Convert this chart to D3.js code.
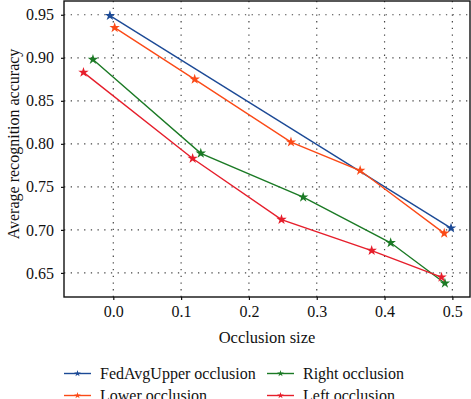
<!DOCTYPE html>
<html>
<head>
<meta charset="utf-8">
<script src="https://cdn.jsdelivr.net/npm/d3@7"></script>
<style>
  body { margin: 0; background: #fff; }
  svg { display: block; }
  svg text { font-family: "Liberation Serif", "DejaVu Serif", "Times New Roman", Times, serif !important; fill: #111; }
</style>
</head>
<body>
<svg id="chart" width="471" height="399"></svg>
<script>
// values
const seriesNames = ["FedAvgUpper occlusion", "Lower occlusion", "Right occlusion", "Left occlusion"];
const seriesColors = ["#1c4a96", "#fb4a17", "#1b7a25", "#e61e2b"];

const upperX = [-0.005, 0.498];
const upperY = [0.949, 0.702];
const lowerX = [0.002, 0.120, 0.262, 0.364, 0.488];
const lowerY = [0.935, 0.875, 0.802, 0.769, 0.696];
const rightX = [-0.030, 0.129, 0.280, 0.409, 0.489];
const rightY = [0.898, 0.789, 0.738, 0.685, 0.638];
const leftX = [-0.044, 0.117, 0.248, 0.381, 0.484];
const leftY = [0.883, 0.783, 0.712, 0.676, 0.645];

const xTicks = [0.0, 0.1, 0.2, 0.3, 0.4, 0.5];
const yTicks = [0.65, 0.70, 0.75, 0.80, 0.85, 0.90, 0.95];

const serif = "'Liberation Serif', 'DejaVu Serif', 'Times New Roman', serif";

const svg = d3.select("#chart");
const margin = { top: 1, right: 1, bottom: 102, left: 64 };
const width = +svg.attr("width") - margin.left - margin.right;
const height = +svg.attr("height") - margin.top - margin.bottom;

const chart = svg.append("g")
    .attr("transform", `translate(${margin.left}, ${margin.top})`);

const x = d3.scaleLinear().domain([-0.0727, 0.526]).range([0, width]);
const y = d3.scaleLinear().domain([0.622, 0.966]).range([height, 0]);

// dotted grid
chart.append("g").selectAll("line")
    .data(yTicks)
    .join("line")
    .attr("x1", 0).attr("x2", width)
    .attr("y1", d => y(d)).attr("y2", d => y(d))
    .attr("stroke", "#444").attr("stroke-width", 1.2)
    .attr("stroke-dasharray", "1.3,5.4");

chart.append("g").selectAll("line")
    .data(xTicks)
    .join("line")
    .attr("x1", d => x(d)).attr("x2", d => x(d))
    .attr("y1", 0).attr("y2", height)
    .attr("stroke", "#444").attr("stroke-width", 1.2)
    .attr("stroke-dasharray", "1.3,5.4");

// axes
const xAxis = chart.append("g")
    .attr("transform", `translate(0, ${height})`)
    .call(d3.axisBottom(x).tickValues(xTicks).tickFormat(d3.format(".1f")).tickSizeInner(3).tickSizeOuter(0).tickPadding(6));
const yAxis = chart.append("g")
    .call(d3.axisLeft(y).tickValues(yTicks).tickFormat(d3.format(".2f")).tickSizeInner(3).tickSizeOuter(0).tickPadding(7));

[xAxis, yAxis].forEach(a => {
    a.attr("font-family", serif).attr("font-size", 16);
    a.select(".domain").remove();
    a.selectAll(".tick line").attr("stroke", "#111").attr("stroke-width", 1.2);
    a.selectAll("text").attr("fill", "#111");
});

// frame
chart.append("rect")
    .attr("x", 0).attr("y", 0)
    .attr("width", width).attr("height", height)
    .attr("fill", "none").attr("stroke", "#111").attr("stroke-width", 1.4);

// series
const series = [
    { xs: upperX, ys: upperY },
    { xs: lowerX, ys: lowerY },
    { xs: rightX, ys: rightY },
    { xs: leftX, ys: leftY }
].map((s, i) => ({
    name: seriesNames[i],
    color: seriesColors[i],
    points: s.xs.map((v, j) => [v, s.ys[j]])
}));

const line = d3.line().x(d => x(d[0])).y(d => y(d[1]));
const star = d3.symbol().type(d3.symbolStar);

series.forEach(s => {
    const g = chart.append("g");
    g.append("path")
        .attr("d", line(s.points))
        .attr("fill", "none")
        .attr("stroke", s.color)
        .attr("stroke-width", 1.4);
    g.selectAll("path.mark")
        .data(s.points)
        .join("path")
        .attr("class", "mark")
        .attr("transform", d => `translate(${x(d[0])}, ${y(d[1])})`)
        .attr("d", star.size(34)())
        .attr("fill", s.color);
});

// axis titles
svg.append("text")
    .attr("x", margin.left + width / 2)
    .attr("y", 343)
    .attr("text-anchor", "middle")
    .attr("font-family", serif)
    .attr("font-size", 16.5)
    .text("Occlusion size");

svg.append("text")
    .attr("transform", `translate(19, 144) rotate(-90)`)
    .attr("text-anchor", "middle")
    .attr("font-family", serif)
    .attr("font-size", 16)
    .text("Average recognition accuracy");

// legend, two columns
const legend = svg.append("g");
const item = legend.selectAll("g")
    .data(series)
    .join("g")
    .attr("transform", (d, i) => `translate(${i < 2 ? 64 : 267}, ${i % 2 === 0 ? 373.5 : 395.5})`);
item.append("line")
    .attr("x1", 0).attr("x2", 27)
    .attr("stroke", d => d.color).attr("stroke-width", 1.4);
item.append("path")
    .attr("transform", "translate(13.5, 0)")
    .attr("d", star.size(14)())
    .attr("fill", d => d.color);
item.append("text")
    .attr("x", 36)
    .attr("y", 5.5)
    .attr("font-family", serif)
    .attr("font-size", 16)
    .text(d => d.name);
</script>
</body>
</html>
